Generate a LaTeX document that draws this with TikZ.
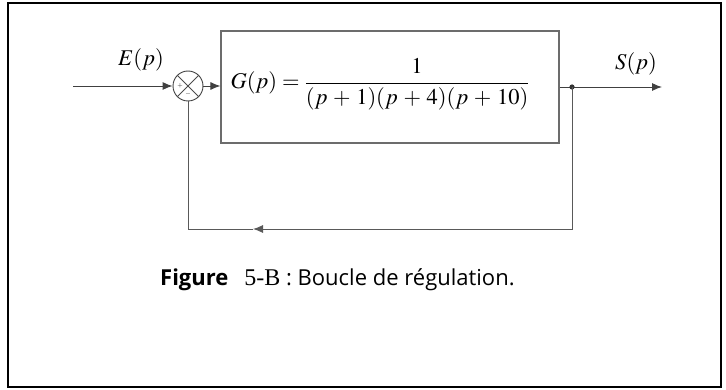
\documentclass[tikz,border=0pt]{standalone}
\usepackage{amsmath}
\usepackage{mathptmx}
\usepackage{fontspec}
\setmainfont{Liberation Serif}
\newfontfamily\capfont{Open Sans}
\usepackage{tikz}
\usetikzlibrary{arrows.meta, calc, positioning}

\tikzset{
    sig/.style={draw=black!75, line width=0.9pt, -{Latex[length=10pt,width=8pt]}},
    fbline/.style={draw=black!65, line width=0.9pt},
    plant/.style={draw=gray!85!black, line width=1.2pt, minimum width=338pt, minimum height=112pt},
    sumnode/.style={circle, draw=black!75, line width=0.9pt, minimum size=30pt, inner sep=0pt},
    bigmath/.style={font=\fontsize{22.5}{26}\selectfont},
}

\begin{document}
\begin{tikzpicture}[x=1pt, y=-1pt]
    \useasboundingbox (0,0) rectangle (726,390);
    \draw[line width=1.6pt] (8,3) rectangle (721,387);

    % blocks
    \node[sumnode] (sum) at (188,86) {};
    \draw[black!70, line width=0.8pt] (sum.45) -- (sum.225) (sum.135) -- (sum.-45);
    \node[font=\fontsize{7}{7}\selectfont, inner sep=0pt] (sgnplus) at ([xshift=-8pt]sum.center) {$+$};
    \node[font=\fontsize{7}{7}\selectfont, inner sep=0pt] (sgnminus) at ([yshift=-8pt]sum.center) {$-$};

    \node[plant] (G) at (390,87) {};
    \node[bigmath] (Gtf) at ([xshift=-10pt, yshift=3pt]G.center) {$G(p) = \dfrac{1}{(p\,+\,1)(p\,+\,4)(p\,+\,10)}$};

    \coordinate (in) at (73,86);
    \coordinate (out) at (662,87);
    \coordinate (br) at (572,87);
    \coordinate (fbk) at (253,229);

    % signals
    \draw[sig] (in) -- (sum);
    \draw[sig] (sum) -- (G.west |- sum);
    \draw[sig] (G.east |- br) -- (out);
    \fill[black!80] (br) circle (2.6pt);
    \draw[fbline, -{Latex[length=10pt,width=8pt]}] (br) |- (fbk);
    \draw[fbline] (fbk) -| (sum.south);

    \node[bigmath] (lblE) at (141,60) {$E(p)$};
    \node[bigmath] (lblS) at (636,64) {$S(p)$};

    \node[anchor=base west, inner sep=0pt, font=\capfont\fontsize{22}{26}\selectfont] (cap) at (160,286)
        {{\bfseries Figure}\hspace{16pt}{\rmfamily\fontsize{24}{26}\selectfont 5-B} : Boucle de régulation.};
\end{tikzpicture}
\end{document}
